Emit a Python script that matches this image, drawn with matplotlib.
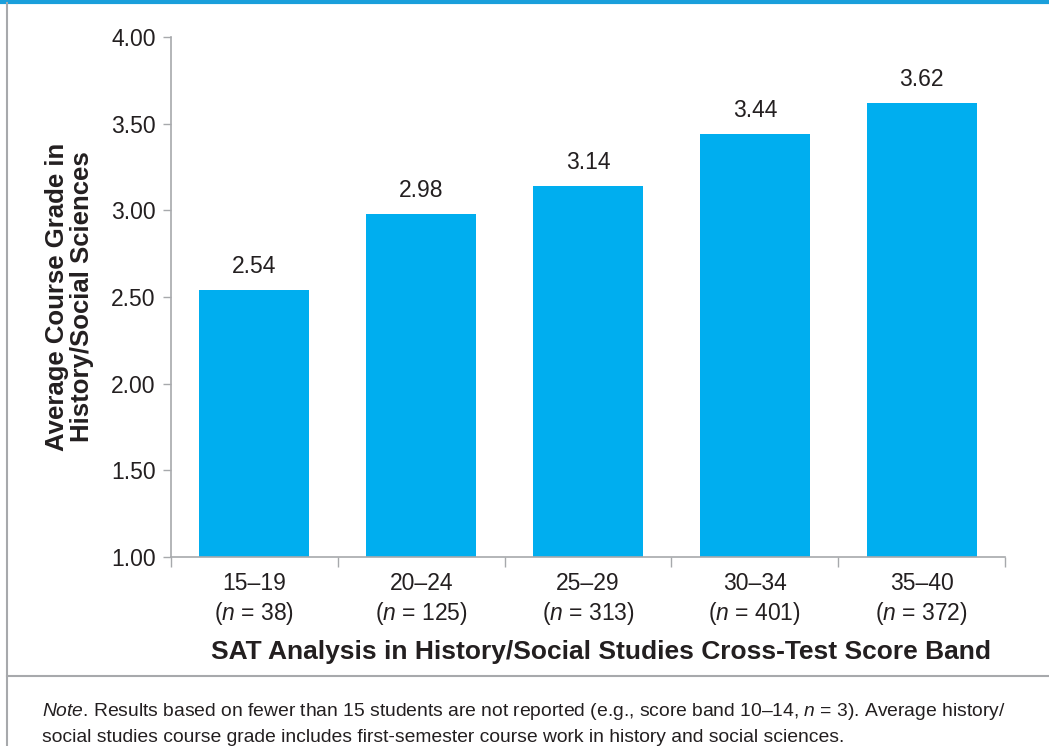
"""Average history/social sciences course grade by SAT cross-test score band."""
import numpy as np
import matplotlib
matplotlib.use("Agg")
import matplotlib.pyplot as plt
from matplotlib.lines import Line2D
from matplotlib import font_manager

bands = ["15–19", "20–24", "25–29", "30–34", "35–40"]
counts = [38, 125, 313, 401, 372]
grades = [2.54, 2.98, 3.14, 3.44, 3.62]
yticks = [1.00, 1.50, 2.00, 2.50, 3.00, 3.50, 4.00]

BAR, INK, GREY, TOP = "#00aeef", "#231f20", "#a7a9ac", "#1a9fdb"

plt.rcParams["font.family"] = ["Liberation Sans", "DejaVu Sans"]
plt.rcParams["mathtext.fontset"] = "custom"
plt.rcParams["mathtext.it"] = "Liberation Sans:italic"
plt.rcParams["mathtext.rm"] = "Liberation Sans"

names = {f.name for f in font_manager.fontManager.ttflist}
NOTE_FONT = ["Liberation Sans Narrow", "Liberation Sans"] if "Liberation Sans Narrow" in names else ["Liberation Sans"]

fig = plt.figure(figsize=(10.49, 7.46), dpi=100)
ax = fig.add_axes([171 / 1049, 1 - 557 / 746, 834 / 1049, 520 / 746])

x = np.arange(len(bands))
ax.bar(x, [g - 1 for g in grades], bottom=1, width=0.66, color=BAR, zorder=2)
for xi, g in zip(x, grades):
    ax.text(xi, g + 0.07, f"{g:.2f}", ha="center", va="bottom", fontsize=16.5, color=INK)

ax.set_xlim(-0.5, len(bands) - 0.5)
ax.set_ylim(1, 4)
ax.set_yticks(yticks)
ax.set_yticklabels([f"{v:.2f}" for v in yticks], fontsize=16.5, color=INK)
ax.set_xticks(x)
ax.set_xticklabels([f"{b}\n(${{n}}$ = {c})" for b, c in zip(bands, counts)],
                   fontsize=16.5, color=INK, linespacing=1.25)
ax.set_xticks(np.arange(len(bands) + 1) - 0.5, minor=True)
ax.tick_params(axis="x", which="major", length=0, pad=11)
ax.tick_params(axis="x", which="minor", length=7, color=GREY, width=1)
ax.tick_params(axis="y", length=6, color=GREY, width=1, pad=5)

for s in ("top", "right"):
    ax.spines[s].set_visible(False)
for s in ("left", "bottom"):
    ax.spines[s].set_color(GREY)
    ax.spines[s].set_linewidth(1.2)

ax.set_xlabel("SAT Analysis in History/Social Studies Cross-Test Score Band",
              fontsize=19, fontweight="bold", color=INK, labelpad=9)
ax.xaxis.label.set_x(0.515)
ax.set_ylabel("Average Course Grade in\nHistory/Social Sciences",
              fontsize=18.5, fontweight="bold", color=INK, labelpad=12, linespacing=1.05)

# frame lines of the exhibit box
fig.add_artist(Line2D([0, 1], [1 - 1.5 / 746] * 2, color=TOP, lw=3))
fig.add_artist(Line2D([7 / 1049] * 2, [0, 1 - 3 / 746], color=GREY, lw=1.5))
fig.add_artist(Line2D([7 / 1049, 1], [1 - 676 / 746] * 2, color=GREY, lw=1.5))

fig.text(42 / 1049, 1 - 712 / 746,
         "$\\it{Note}$. Results based on fewer than 15 students are not reported (e.g., score band 10–14, $\\it{n}$ = 3). Average history/",
         fontsize=13.9, color=INK, va="center", family=NOTE_FONT)
fig.text(42 / 1049, 1 - 737 / 746,
         "social studies course grade includes first-semester course work in history and social sciences.",
         fontsize=13.9, color=INK, va="center", family=NOTE_FONT)

fig.savefig("out.png", dpi=100, facecolor="white")
